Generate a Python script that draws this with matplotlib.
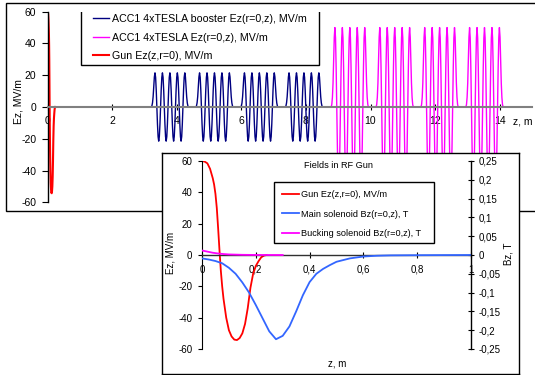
import numpy as np
import matplotlib
matplotlib.use('Agg')
import matplotlib.pyplot as plt
from matplotlib.patches import Rectangle
from matplotlib.ticker import FuncFormatter

plt.rcParams['font.family'] = ['Liberation Sans', 'DejaVu Sans']

# ---------------- data ----------------
gun_z = [0.0, 0.01, 0.02, 0.03, 0.04, 0.045, 0.05, 0.055, 0.06, 0.065, 0.07, 0.075,
         0.08, 0.09, 0.10, 0.11, 0.12, 0.13, 0.14, 0.15, 0.16, 0.17, 0.18, 0.19,
         0.20, 0.21, 0.22, 0.23, 0.24]
gun_ez = [60, 59.6, 58.5, 55, 49, 45, 39, 30, 17, 3, -10, -20,
          -28, -40, -48, -52, -54, -54.3, -53, -50, -44, -34, -21, -12,
          -7, -4, -1.5, -0.4, 0]

main_sol_z = [0, 0.025, 0.05, 0.075, 0.1, 0.125, 0.15, 0.175, 0.2, 0.225, 0.25,
              0.275, 0.3, 0.325, 0.35, 0.375, 0.4, 0.425, 0.45, 0.475, 0.5, 0.55,
              0.6, 0.65, 0.7, 0.8, 0.9, 1.0]
main_sol_bz = [-0.009, -0.012, -0.016, -0.022, -0.034, -0.05, -0.073, -0.1, -0.133,
               -0.168, -0.203, -0.224, -0.215, -0.19, -0.15, -0.107, -0.072, -0.05,
               -0.037, -0.027, -0.018, -0.009, -0.004, -0.002, -0.001, -0.0005,
               -0.0002, 0.0]

buck_z = [0, 0.02, 0.04, 0.06, 0.08, 0.1, 0.15, 0.2, 0.3]
buck_bz = [0.012, 0.009, 0.006, 0.004, 0.0025, 0.0015, 0.0005, 0.0001, 0.0]

# normalized on-axis profile of one 9-cell TESLA cavity (sample step = cell/6)
cell_step = 0.1154 / 6
cav_profile = [
    0.0, 0.03, 0.12,
    0.3, 0.6, 0.88, 1.0, 0.87, 0.5,
    0.0, -0.5, -0.87, -1.0, -0.87, -0.5,
    0.0, 0.5, 0.87, 1.0, 0.87, 0.5,
    0.0, -0.5, -0.87, -1.0, -0.87, -0.5,
    0.0, 0.5, 0.87, 1.0, 0.87, 0.5,
    0.0, -0.5, -0.87, -1.0, -0.87, -0.5,
    0.0, 0.5, 0.87, 1.0, 0.87, 0.5,
    0.0, -0.5, -0.87, -1.0, -0.87, -0.5,
    0.0, 0.5, 0.87, 1.0, 0.88, 0.6,
    0.3, 0.12, 0.03, 0.0]
booster_starts = [3.27, 4.65, 6.04, 7.42]
booster_amp = 21.5
acc1_starts = [8.84, 10.23, 11.62, 13.01]
acc1_amp = 50.0

labels_main = ['ACC1 4xTESLA booster Ez(r=0,z), MV/m',
               'ACC1 4xTESLA Ez(r=0,z), MV/m',
               'Gun Ez(z,r=0), MV/m']
labels_inset = ['Gun Ez(z,r=0), MV/m',
                'Main solenoid Bz(r=0,z), T',
                'Bucking solenoid Bz(r=0,z), T']
main_xticks = [0, 2, 4, 6, 8, 10, 12, 14]
main_yticks = [-60, -40, -20, 0, 20, 40, 60]
inset_xticks = [0, 0.2, 0.4, 0.6, 0.8, 1.0]
inset_yticks = [-60, -40, -20, 0, 20, 40, 60]
inset_bticks = [-0.25, -0.2, -0.15, -0.1, -0.05, 0, 0.05, 0.1, 0.15, 0.2, 0.25]


def cavity_series(starts, amp):
    off = (np.arange(len(cav_profile)) - 3) * cell_step
    prof = np.array(cav_profile)
    zs = np.concatenate([s + off for s in starts])
    es = np.concatenate([amp * prof for _ in starts])
    return zs, es


W, H = 535, 375


def fr(x0, y0, x1, y1):
    return [x0 / W, 1 - y1 / H, (x1 - x0) / W, (y1 - y0) / H]


comma = FuncFormatter(lambda v, p: ('%g' % v).replace('.', ','))

fig = plt.figure(figsize=(W / 100, H / 100), dpi=100)
fig.patch.set_facecolor('white')

# main chart frame
fig.patches.append(Rectangle((5.5 / W, 1 - 211 / H), 560 / W, 208 / H,
                             transform=fig.transFigure, facecolor='white',
                             edgecolor='black', lw=1.0, zorder=-1))

# ---------------- main axes ----------------
ax = fig.add_axes(fr(47.5, 11.7, 532, 202.3))
ax.set_zorder(1)
ax.patch.set_alpha(0)
bz, be = cavity_series(booster_starts, booster_amp)
az, ae = cavity_series(acc1_starts, acc1_amp)
l1, = ax.plot(bz, be, color='#000080', lw=1.0)
l2, = ax.plot(az, ae, color='#FF00FF', lw=1.0)
l3, = ax.plot(gun_z, gun_ez, color='#FF0000', lw=1.5)
ax.set_xlim(0, 15)
ax.set_ylim(-60, 60)
ax.set_xticks(main_xticks)
ax.set_yticks(main_yticks)
ax.yaxis.set_major_formatter(comma)
for s in ['top', 'right']:
    ax.spines[s].set_visible(False)
ax.spines['bottom'].set_position(('data', 0))
ax.spines['bottom'].set_color('#808080')
ax.spines['bottom'].set_linewidth(1.5)
ax.spines['left'].set_linewidth(1.0)
ax.tick_params(axis='x', direction='inout', length=5, width=0.8, pad=4,
               labelsize=7.5, color='black')
ax.tick_params(axis='y', direction='out', length=4, width=0.8, pad=4,
               labelsize=7.5)
ax.set_ylabel('Ez, MV/m', fontsize=7.5)
ax.yaxis.set_label_coords(-0.05, 0.53)
fig.text(513 / W, 1 - 122 / H, 'z, m', fontsize=7.5, ha='left', va='center')

ax.add_patch(Rectangle((81 / W, 1 - 65 / H), 238 / W, 57 / H,
                       transform=fig.transFigure, facecolor='white',
                       edgecolor='black', lw=1.0, zorder=5))
leg = ax.legend([l1, l2, l3], labels_main, loc='upper left',
                bbox_to_anchor=(93 / W, 1 - 14 / H), bbox_transform=fig.transFigure,
                frameon=False, borderpad=0, borderaxespad=0, fontsize=7.7,
                handlelength=1.45, handletextpad=0.3, labelspacing=0.8)
leg.set_zorder(6)

# ---------------- inset ----------------
frame2 = fig.add_axes(fr(162, 153, 519, 373.5))
frame2.set_zorder(2)
frame2.set_xticks([])
frame2.set_yticks([])
for s in frame2.spines.values():
    s.set_linewidth(1.0)
    s.set_color('black')

axi = fig.add_axes(fr(202, 161, 471, 349))
axi.set_zorder(3)
axi.patch.set_alpha(0)
g1, = axi.plot(gun_z, gun_ez, color='#FF0000', lw=1.3)
axi.set_xlim(0, 1)
axi.set_ylim(-60, 60)
axi.set_xticks(inset_xticks)
axi.set_yticks(inset_yticks)
axi.xaxis.set_major_formatter(comma)
axi.yaxis.set_major_formatter(comma)
for s in ['top', 'right']:
    axi.spines[s].set_visible(False)
axi.spines['bottom'].set_position(('data', 0))
axi.spines['bottom'].set_color('#303030')
axi.spines['bottom'].set_linewidth(1.0)
axi.tick_params(axis='x', direction='inout', length=4, width=0.8, pad=5,
                labelsize=7)
axi.tick_params(axis='y', direction='out', length=3, width=0.8, pad=4,
                labelsize=7)
axi.set_ylabel('Ez, MV/m', fontsize=7)
axi.yaxis.set_label_coords(-0.1, 0.51)

axt = axi.twinx()
axt.set_zorder(4)
axt.patch.set_alpha(0)
g2, = axt.plot(main_sol_z, main_sol_bz, color='#3366FF', lw=1.3)
g3, = axt.plot(buck_z, buck_bz, color='#FF00FF', lw=1.3)
axt.set_ylim(-0.25, 0.25)
axt.set_yticks(inset_bticks)
axt.yaxis.set_major_formatter(comma)
for s in ['top', 'left', 'bottom']:
    axt.spines[s].set_visible(False)
axt.spines['right'].set_linewidth(1.0)
axt.tick_params(axis='y', direction='inout', length=5, width=0.8, pad=3,
                labelsize=7)
axt.set_ylabel('Bz, T', fontsize=7)
axt.yaxis.set_label_coords(1.12, 0.505)

fig.text(339 / W, 1 - 166 / H, 'Fields in RF Gun', fontsize=6.6,
         ha='center', va='center')
fig.text(337 / W, 1 - 363 / H, 'z, m', fontsize=7, ha='center', va='center')

axt.add_patch(Rectangle((274 / W, 1 - 243 / H), 160 / W, 61 / H,
                        transform=fig.transFigure, facecolor='white',
                        edgecolor='black', lw=1.0, zorder=5))
leg2 = axt.legend([g1, g2, g3], labels_inset, loc='upper left',
                  bbox_to_anchor=(282 / W, 1 - 190 / H),
                  bbox_transform=fig.transFigure, frameon=False, borderpad=0,
                  borderaxespad=0, fontsize=6.6, handlelength=1.9,
                  handletextpad=0.2, labelspacing=1.15)
leg2.set_zorder(6)

fig.savefig('out.png', dpi=100)
